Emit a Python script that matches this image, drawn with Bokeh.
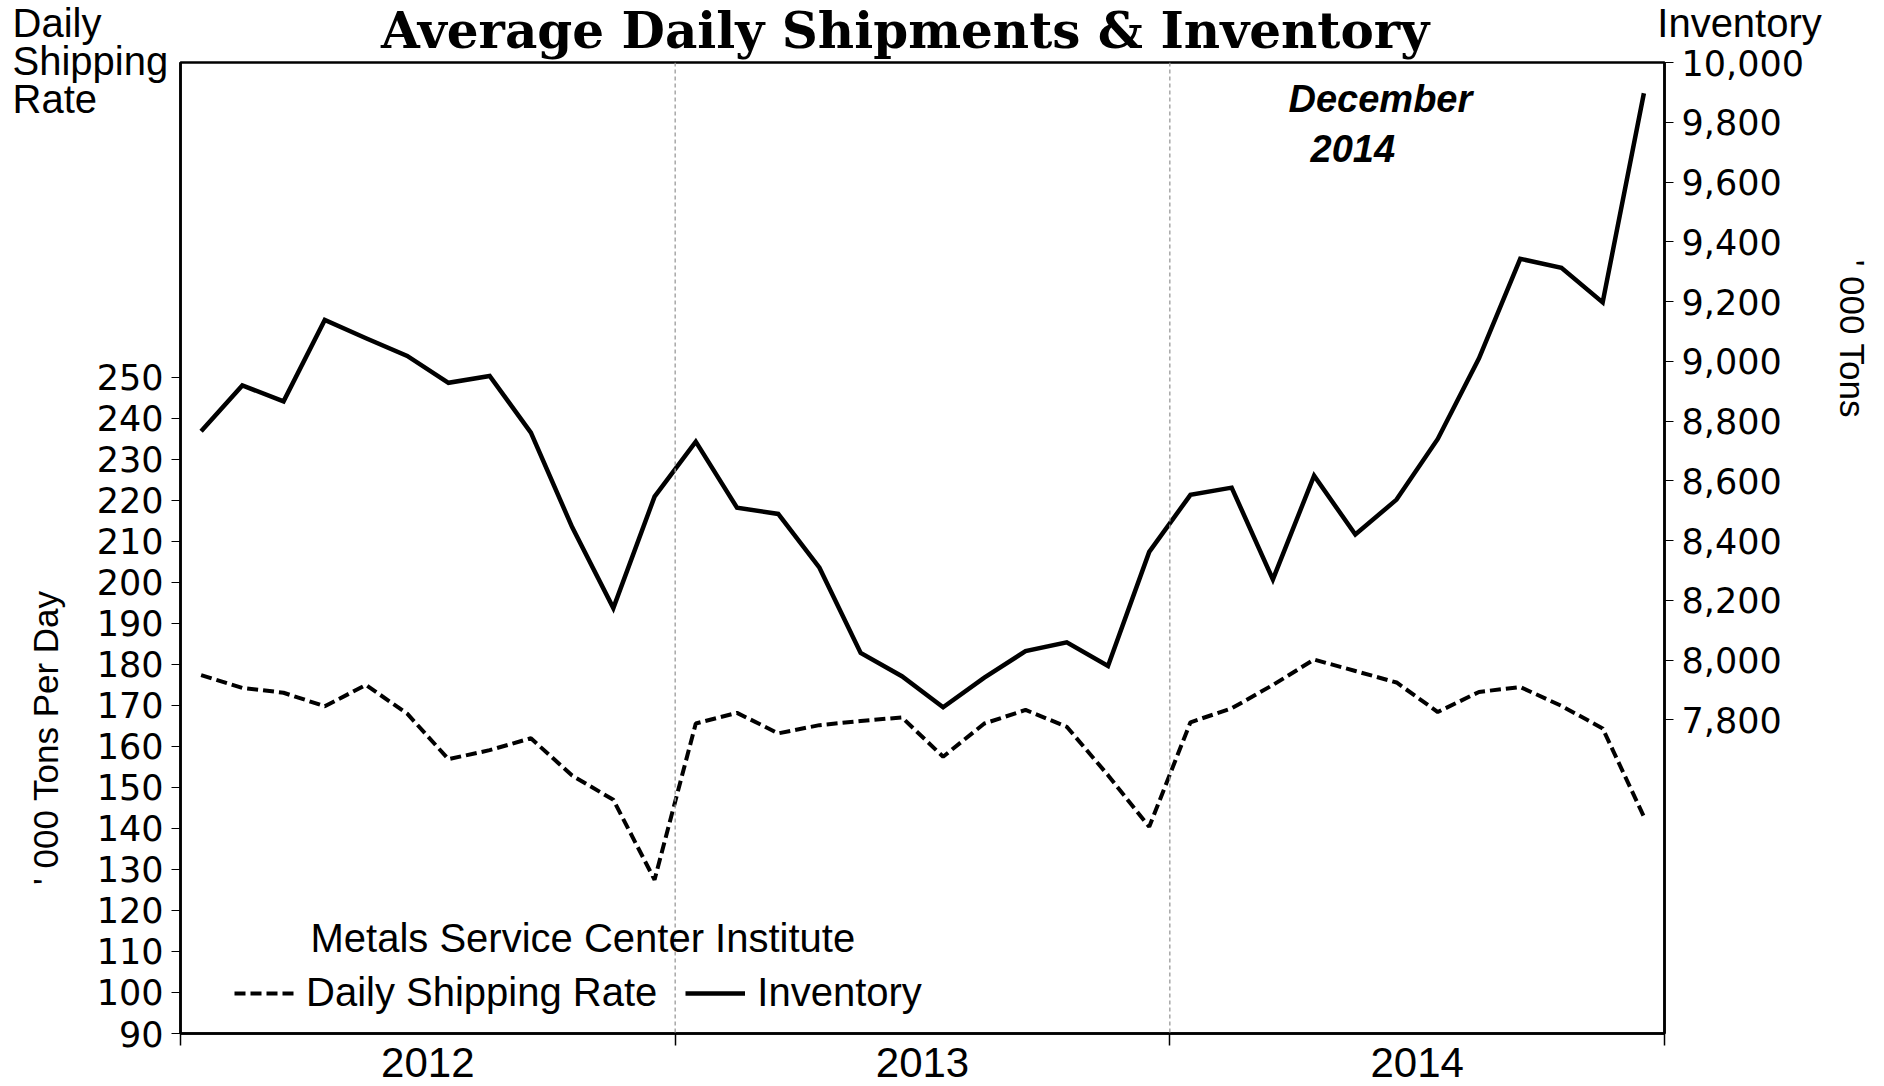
from bokeh.plotting import figure
from bokeh.models import (Range1d, LinearAxis, FixedTicker, Label, Legend, LegendItem,
                          Span, NumeralTickFormatter, Title)
from bokeh.embed import file_html
from bokeh.resources import INLINE

# ---- data ----
months = list(range(36))
x_mid = [m + 0.5 for m in months]
shipping = [177.4, 174.3, 173.1, 169.8, 175.0, 168.0, 156.9, 159.1, 162.0, 152.9, 147.0, 127.5,
            165.6, 168.2, 163.2, 165.2, 166.2, 167.1, 157.5, 165.6, 168.9, 164.8, 153.0, 140.4,
            165.9, 169.3, 175.0, 181.2, 178.4, 175.6, 168.4, 173.3, 174.5, 169.9, 164.4, 142.9]
inventory = [8766, 8919, 8866, 9138, 9077, 9018, 8928, 8951, 8761, 8445, 8174, 8547,
             8731, 8510, 8489, 8309, 8024, 7946, 7842, 7941, 8030, 8059, 7980, 8362,
             8553, 8577, 8270, 8617, 8420, 8537, 8740, 9010, 9343, 9313, 9197, 9897]
years = ["2012", "2013", "2014"]
year_centers = [6, 18, 30]
year_bounds = [0, 12, 24, 36]
left_ticks = list(range(90, 251, 10))
right_ticks = list(range(7800, 10001, 200))

SANS = "Liberation Sans"
TICKF = "DejaVu Sans"
NB = "\u00a0"

p = figure(width=1884, height=1086, x_range=Range1d(0, 36), y_range=Range1d(90, 326.8),
           output_backend="svg", toolbar_location=None,
           min_border_left=180, min_border_right=220, min_border_top=0, min_border_bottom=53)
p.title.visible = False
p.extra_y_ranges = {"inv": Range1d(6750, 10000)}
p.grid.visible = False
p.outline_line_color = "black"
p.outline_line_width = 2.5
p.background_fill_color = "white"
p.border_fill_color = "white"

# x axis: labels at year centres, tick marks at year boundaries
xa = p.xaxis[0]
xa.ticker = FixedTicker(ticks=year_centers, minor_ticks=year_bounds)
xa.major_label_overrides = {c: y for c, y in zip(year_centers, years)}
xa.major_tick_line_color = None
xa.major_tick_out = 0
xa.major_tick_in = 0
xa.minor_tick_out = 12
xa.minor_tick_in = 0
xa.minor_tick_line_color = "black"
xa.minor_tick_line_width = 1.5
xa.major_label_standoff = 2
xa.major_label_text_font = SANS
xa.major_label_text_font_size = "42px"
xa.major_label_text_color = "black"
xa.axis_line_width = 2.5

# left axis
ya = p.yaxis[0]
ya.ticker = FixedTicker(ticks=left_ticks)
ya.major_tick_out = 9
ya.major_tick_in = 0
ya.minor_tick_line_color = None
ya.major_label_standoff = 8
ya.major_label_text_font = TICKF
ya.major_label_text_font_size = "35px"
ya.major_label_text_color = "black"
ya.axis_line_width = 2.5
ya.axis_label = "' 000 Tons Per Day" + NB * 39
ya.axis_label_text_font = SANS
ya.axis_label_text_font_size = "35px"
ya.axis_label_text_font_style = "normal"
ya.axis_label_text_color = "black"
ya.axis_label_standoff = 29

# right axis
ra = LinearAxis(y_range_name="inv", ticker=FixedTicker(ticks=right_ticks),
                formatter=NumeralTickFormatter(format="0,0"))
ra.major_tick_out = 9
ra.major_tick_in = 0
ra.minor_tick_line_color = None
ra.major_label_standoff = 8
ra.major_label_text_font = TICKF
ra.major_label_text_font_size = "35px"
ra.major_label_text_color = "black"
ra.axis_line_width = 2.5
ra.axis_label = "' 000 Tons" + NB * 43
ra.axis_label_text_font = SANS
ra.axis_label_text_font_size = "35px"
ra.axis_label_text_font_style = "normal"
ra.axis_label_text_color = "black"
ra.axis_label_standoff = 26
p.add_layout(ra, "right")

# titles above the frame (first added = nearest to the frame)
t_corner = Title(text="Daily" + NB * 140 + "Inventory\nShipping\nRate", align="left",
                 offset=-168, vertical_align="top", standoff=-120.2,
                 text_font=SANS, text_font_size="40px", text_font_style="normal",
                 text_color="black", text_line_height=0.86)
t_main = Title(text="Average Daily Shipments & Inventory" + NB * 2, align="center",
               vertical_align="top", standoff=0, text_font="DejaVu Serif",
               text_font_size="50px", text_font_style="bold", text_color="black")
p.add_layout(t_corner, "above")
p.add_layout(t_main, "above")

for b in year_bounds[1:3]:
    p.add_layout(Span(location=b, dimension="height", line_color="#9a9a9a",
                      line_dash="4 3", line_width=1.3))

r_ship = p.line(x_mid, shipping, line_color="black", line_width=4, line_dash="11 5")
r_inv = p.line(x_mid, inventory, y_range_name="inv", line_color="black", line_width=4.5,
               line_join="miter")

legend = Legend(items=[LegendItem(label="Daily Shipping Rate", renderers=[r_ship]),
                       LegendItem(label="Inventory", renderers=[r_inv])],
                orientation="horizontal", location=(54, 18), border_line_color=None,
                background_fill_alpha=0, label_text_font=SANS, label_text_font_size="40px",
                label_text_color="black",
                glyph_width=60, glyph_height=20, spacing=28, label_standoff=12,
                padding=0, margin=0)
p.add_layout(legend)

def lab(text, x, y, size, font=SANS, style="normal", align="left", baseline="middle"):
    p.add_layout(Label(text=text, x=x, y=y, x_units="screen", y_units="screen",
                       text_font=font, text_font_size=size, text_font_style=style,
                       text_align=align, text_baseline=baseline, text_color="black"))

lab("December", 1108, 935, "38px", style="bold italic")
lab("2014", 1130, 885, "38px", style="bold italic")
lab("Metals Service Center Institute", 130, 96, "40px")

open("out.html", "w").write(file_html(p, INLINE))
